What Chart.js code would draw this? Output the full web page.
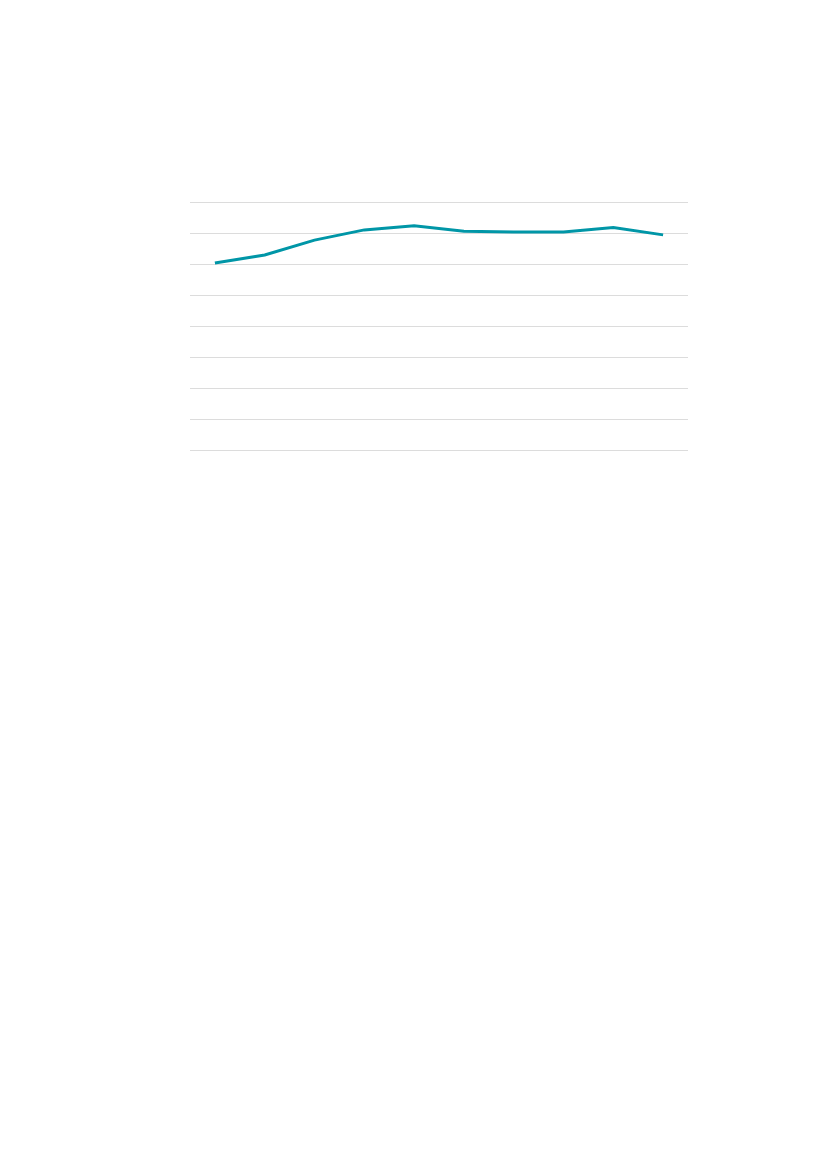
<!DOCTYPE html>
<html>
<head>
<meta charset="utf-8">
<script src="https://cdn.jsdelivr.net/npm/chart.js@4"></script>
<style>
  html, body { margin: 0; padding: 0; background: #fff; }
  body { width: 827px; height: 1169px; position: relative; }
  .chart-wrapper { position: absolute; left: 180px; top: 192px; width: 518px; height: 276px; }
</style>
</head>
<body>
<div class="chart-wrapper"><canvas id="chart1"></canvas></div>
<script>
// no text is shown on the reference, so the categories are just positions
const categories = ['1', '2', '3', '4', '5', '6', '7', '8', '9', '10'];
const seriesValues = [6.03, 6.29, 6.77, 7.10, 7.23, 7.06, 7.03, 7.03, 7.18, 6.94];
const yMin = 0;
const yMax = 8;

const chart1 = document.querySelector('#chart1');

const displayLineChart = (labels, values) => {
    const data = {
        labels: labels,
        datasets: [{
            data: values,
            borderColor: 'rgb(0, 150, 167)',
            borderWidth: 3,
            pointRadius: 0,
            tension: 0,
            fill: false,
        }]
    }
    const config = {
        type: 'line',
        data: data,
        options: {
            responsive: true,
            maintainAspectRatio: false,
            animation: false,
            layout: { padding: 10 },
            plugins: {
                legend: { display: false },
                tooltip: { enabled: false },
            },
            scales: {
                x: {
                    offset: true,
                    grid: { display: false },
                    border: { display: false },
                    ticks: { display: false },
                },
                y: {
                    min: yMin,
                    max: yMax,
                    ticks: { display: false, stepSize: 1 },
                    grid: { color: '#dcdcdc', lineWidth: 1, drawTicks: false },
                    border: { display: false },
                }
            },
        }
    }
    new Chart(chart1, config)
}

displayLineChart(categories, seriesValues);
</script>
</body>
</html>
